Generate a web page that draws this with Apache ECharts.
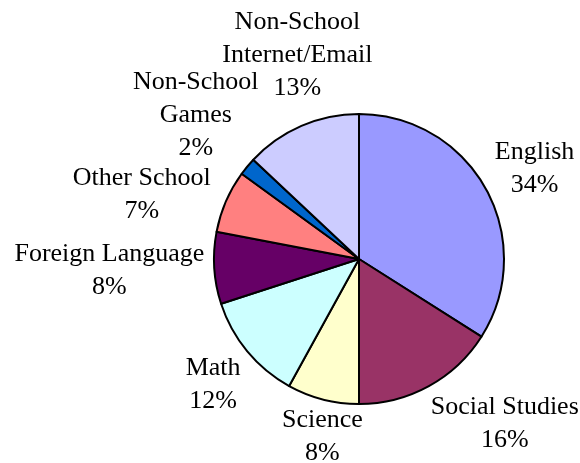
<!DOCTYPE html>
<html>
<head>
<meta charset="utf-8">
<style>
  html, body { margin: 0; padding: 0; background: #fff; }
  #chart { width: 580px; height: 463px; }
</style>
<script src="https://cdn.jsdelivr.net/npm/echarts@6/dist/echarts.min.js"></script>
</head>
<body>
<div id="chart"></div>
<script>
// Share of computer time by activity (percent)
const categories = ['English', 'Social Studies', 'Science', 'Math', 'Foreign Language',
                    'Other School', 'Non-School Games', 'Non-School Internet/Email'];
const shares = [34, 16, 8, 12, 8, 7, 2, 13];
const sliceColors = ['#9999FF', '#993366', '#FFFFCC', '#CCFFFF', '#660066',
                     '#FF8080', '#0066CC', '#CCCCFF'];

const CX = 359, CY = 259, R = 145, GAP = 10;

// small hand nudges for labels that would otherwise crowd or clip
const labelNudge = {
  'Science': [2, -4],
  'Math': [1, 6],
  'Other School': [-6, 10],
  'Non-School Games': [19, -13],
  'Non-School Internet/Email': [0, -16]
};

// mid-angle of every slice, clockwise from 12 o'clock
const total = shares.reduce((a, b) => a + b, 0);
const midAngles = [];
let acc = 0;
shares.forEach(v => { midAngles.push((acc + v / 2) / total * Math.PI * 2); acc += v; });

const clamp = (t, lo, hi) => Math.max(lo, Math.min(hi, t));

const chart = echarts.init(document.getElementById('chart'), null, { renderer: 'canvas' });
chart.setOption({
  backgroundColor: '#ffffff',
  animation: false,
  series: [{
    type: 'pie',
    center: [CX, CY],
    radius: R,
    startAngle: 90,
    clockwise: true,
    avoidLabelOverlap: false,
    data: categories.map((name, i) => ({
      name: name,
      value: shares[i],
      itemStyle: { color: sliceColors[i] }
    })),
    itemStyle: { borderColor: '#000000', borderWidth: 2 },
    emphasis: { disabled: true },
    label: {
      show: true,
      position: 'outside',
      fontFamily: '"Liberation Serif", "Times New Roman", serif',
      fontSize: 26,
      lineHeight: 33,
      color: '#000000',
      formatter: p => p.name.replace('Non-School ', 'Non-School\n') + '\n' + p.value + '%'
    },
    labelLine: { show: false },
    // place each label box just outside its slice, along the slice's mid-angle
    labelLayout: function (p) {
      const a = midAngles[p.dataIndex];
      const ux = Math.sin(a), uy = -Math.cos(a);
      const fromVertical = Math.acos(Math.abs(uy)) * 180 / Math.PI;
      const fx = Math.sign(ux) * clamp((fromVertical - 24) / 5, 0, 1);
      const fy = uy;
      const w = p.labelRect.width, h = p.labelRect.height;
      const nudge = labelNudge[categories[p.dataIndex]] || [0, 0];
      return {
        x: CX + (R + GAP) * ux + fx * w / 2 + nudge[0],
        y: CY + (R + GAP) * uy + fy * h / 2 + nudge[1],
        align: 'center',
        verticalAlign: 'middle'
      };
    }
  }]
});
</script>
</body>
</html>
